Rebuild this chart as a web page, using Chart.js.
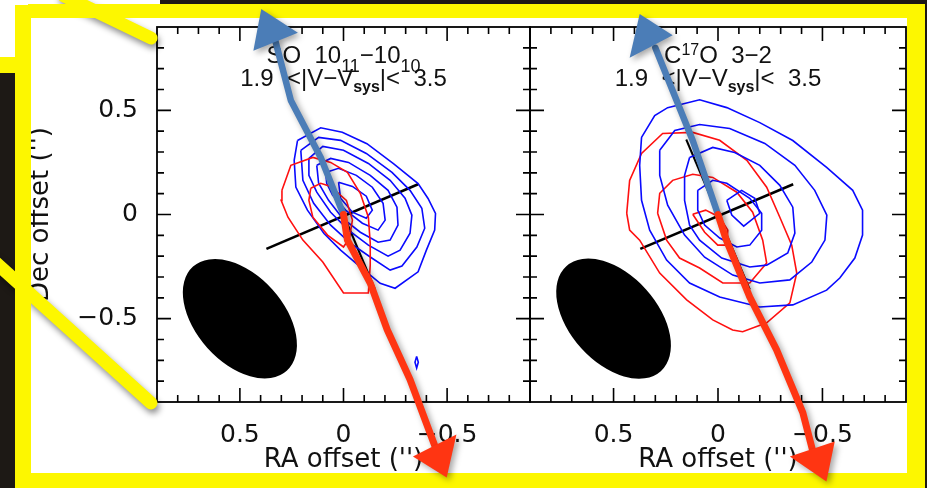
<!DOCTYPE html>
<html><head><meta charset="utf-8">
<script src="https://cdn.jsdelivr.net/npm/chart.js@4.4.1/dist/chart.umd.min.js"></script>
<style>
html,body{margin:0;padding:0;background:#fff;width:927px;height:488px;overflow:hidden;position:relative}
.dark{position:absolute;background:#1d1915}
canvas{position:absolute;top:0}
</style></head><body>
<div class="dark" style="left:0;top:73px;width:16px;height:415px"></div>
<div class="dark" style="left:160px;top:0;width:767px;height:5px"></div>
<div class="dark" style="left:923px;top:0;width:4px;height:488px"></div>
<canvas id="cL" width="540" height="488" style="left:0"></canvas>
<canvas id="cR" width="398" height="488" style="left:529px"></canvas>
<canvas id="ov" width="927" height="488" style="left:0"></canvas>
<script>
// ---------- axes ----------
const axisMin = -0.9, axisMax = 0.9;
const majorTicks = [-0.5, 0, 0.5];
const minorTicks = [-0.8,-0.7,-0.6,-0.4,-0.3,-0.2,-0.1,0.1,0.2,0.3,0.4,0.6,0.7,0.8];
const xTitle = "RA offset ('')";
const yTitle = "Dec offset ('')";

// ---------- SO 10_11-10_10 panel : contours [RA, Dec] in arcsec ----------
const soBlue1 = [[0.222,0.355],[0.110,0.416],[0.006,0.395],[-0.113,0.340],[-0.241,0.244],[-0.360,0.148],[-0.408,0.077],[-0.444,0.005],[-0.440,-0.075],[-0.400,-0.171],[-0.360,-0.275],[-0.249,-0.354],[-0.177,-0.330],[-0.081,-0.251],[0.014,-0.171],[0.094,-0.091],[0.174,0.021],[0.230,0.132],[0.238,0.260]];
const soBlue2 = [[0.206,0.308],[0.120,0.370],[0.014,0.356],[-0.110,0.293],[-0.234,0.202],[-0.321,0.116],[-0.378,0.030],[-0.392,-0.066],[-0.354,-0.156],[-0.282,-0.247],[-0.225,-0.267],[-0.129,-0.204],[-0.033,-0.137],[0.062,-0.051],[0.144,0.054],[0.196,0.164]];
const soBlue3 = [[0.167,0.269],[0.100,0.327],[0.000,0.308],[-0.120,0.245],[-0.225,0.164],[-0.297,0.078],[-0.330,-0.003],[-0.321,-0.090],[-0.273,-0.171],[-0.215,-0.200],[-0.120,-0.147],[-0.024,-0.075],[0.062,0.011],[0.129,0.107],[0.167,0.188]];
const soBlue4 = [[0.129,0.236],[0.062,0.269],[-0.024,0.250],[-0.129,0.188],[-0.215,0.116],[-0.258,0.035],[-0.263,-0.051],[-0.225,-0.123],[-0.167,-0.133],[-0.081,-0.085],[0.005,-0.018],[0.072,0.068],[0.120,0.150]];
const soBlue5 = [[0.086,0.202],[0.024,0.222],[-0.062,0.188],[-0.139,0.131],[-0.191,0.054],[-0.201,-0.027],[-0.167,-0.075],[-0.091,-0.042],[-0.010,0.021],[0.053,0.093],[0.081,0.150]];
const soBlue6 = [[0.024,0.155],[-0.043,0.135],[-0.110,0.088],[-0.139,0.021],[-0.110,-0.018],[-0.043,0.011],[0.014,0.078]];
const soBlueSpot = [[-0.353,-0.681],[-0.361,-0.709],[-0.353,-0.737],[-0.345,-0.709]];
const soRed1 = [[0.297,0.116],[0.254,0.236],[0.148,0.274],[0.062,0.250],[-0.019,0.202],[-0.081,0.102],[-0.120,-0.013],[-0.129,-0.137],[-0.129,-0.243],[-0.120,-0.377],[0.000,-0.377],[0.100,-0.228],[0.196,-0.123],[0.268,-0.013],[0.301,0.068]];
const soRed2 = [[0.158,0.126],[0.110,0.150],[0.062,0.135],[-0.014,0.068],[-0.043,-0.027],[-0.029,-0.113],[0.000,-0.156],[0.077,-0.099],[0.148,-0.013],[0.167,0.068]];

// ---------- C17O 3-2 panel ----------
const coBlue1 = [[0.366,0.370],[0.303,0.475],[0.241,0.513],[0.088,0.551],[-0.042,0.513],[-0.200,0.441],[-0.358,0.355],[-0.520,0.226],[-0.645,0.116],[-0.692,0.021],[-0.692,-0.099],[-0.655,-0.209],[-0.583,-0.305],[-0.520,-0.363],[-0.358,-0.434],[-0.200,-0.444],[-0.008,-0.396],[0.136,-0.329],[0.246,-0.219],[0.327,-0.075],[0.366,0.068],[0.375,0.236]];
const coBlue2 = [[0.279,0.308],[0.207,0.403],[0.088,0.432],[-0.056,0.413],[-0.224,0.341],[-0.368,0.236],[-0.463,0.116],[-0.521,-0.003],[-0.512,-0.123],[-0.449,-0.228],[-0.344,-0.314],[-0.200,-0.329],[-0.071,-0.291],[0.064,-0.205],[0.160,-0.099],[0.241,0.045],[0.279,0.188]];
const coBlue3 = [[0.136,0.274],[0.025,0.322],[-0.080,0.298],[-0.200,0.236],[-0.296,0.140],[-0.358,0.035],[-0.368,-0.089],[-0.334,-0.185],[-0.233,-0.243],[-0.152,-0.252],[-0.018,-0.209],[0.088,-0.123],[0.136,-0.051],[0.160,0.068],[0.160,0.188]];
const coBlue4 = [[0.097,0.116],[0.025,0.164],[-0.042,0.150],[-0.152,0.078],[-0.209,0.006],[-0.209,-0.075],[-0.152,-0.147],[-0.090,-0.156],[-0.008,-0.113],[0.064,-0.051],[0.097,0.021]];
const coBlue5 = [[-0.042,0.068],[-0.113,0.116],[-0.176,0.078],[-0.200,0.006],[-0.123,-0.056],[-0.066,-0.003]];
const coRed1 = [[0.437,0.006],[0.423,0.164],[0.366,0.293],[0.265,0.389],[0.121,0.394],[-0.008,0.356],[-0.138,0.260],[-0.233,0.131],[-0.296,-0.013],[-0.353,-0.147],[-0.377,-0.281],[-0.344,-0.424],[-0.233,-0.520],[-0.118,-0.563],[-0.070,-0.554],[0.025,-0.506],[0.150,-0.410],[0.279,-0.281],[0.375,-0.123],[0.423,-0.075]];
const coRed2 = [[0.289,0.006],[0.279,0.102],[0.217,0.164],[0.121,0.193],[0.025,0.178],[-0.090,0.107],[-0.166,0.011],[-0.214,-0.123],[-0.233,-0.233],[-0.152,-0.329],[-0.023,-0.329],[0.088,-0.257],[0.184,-0.209],[0.246,-0.123]];
const coRed3 = [[0.121,0.001],[0.059,0.021],[-0.008,-0.013],[-0.047,-0.075],[-0.042,-0.147],[0.001,-0.147],[0.064,-0.085]];

// ---------- shared overlays ----------
const diskAxis = [[0.372,-0.165],[-0.360,0.145]];
const outflowAxis = [[0.152,0.36],[-0.152,-0.36]];
const beamCenter = [0.5,-0.5];
const beamAxes = [0.676,0.42];   // FWHM major, minor (arcsec)
const beamPA = 42;               // deg, east of north

// hand-drawn arrows (data coordinates)
const soBlueShaft = [[0,0],[0.110,0.274],[0.254,0.547],[0.328,0.830]];
const soBlueHead  = [[0.397,0.987],[0.220,0.872],[0.435,0.786]];
const soRedShaft  = [[0,0],[-0.019,-0.123],[-0.129,-0.329],[-0.211,-0.553],[-0.321,-0.792],[-0.440,-1.109]];
const soRedHead   = [[-0.545,-1.056],[-0.335,-1.161],[-0.498,-1.262]];
const coBlueShaft = [[0,0],[0.121,0.355],[0.300,0.800]];
const coBlueHead  = [[0.375,0.962],[0.217,0.861],[0.423,0.753]];
const coRedShaft  = [[0,0],[-0.040,-0.123],[-0.152,-0.396],[-0.280,-0.649],[-0.406,-0.951],[-0.451,-1.125]];
const coRedHead   = [[-0.559,-1.089],[-0.344,-1.161],[-0.519,-1.281]];

const BLUE = '#0a0aff', RED = '#ff1010', INK = '#111111';
const ARROW_BLUE = '#4b7db7', ARROW_RED = '#ff3512', YEL = '#fdf700';
const TICK_FONT = '"DejaVu Sans", sans-serif';
const TXT_FONT = '"Liberation Sans", Arial, sans-serif';

const soTitle = [
  [["SO  10",24,0],["11",18,9],["\u221210",24,0],["10",18,9]],
  [["1.9  <|V\u2212V",24,0],["sys",16,6,true],["|<  3.5",24,0]]
];
const coTitle = [
  [["C",24,0],["17",16,-8],["O  3\u22122",24,0]],
  [["1.9  <|V\u2212V",24,0],["sys",16,6,true],["|<  3.5",24,0]]
];

function pts(a){ return a.map(p=>({x:p[0],y:p[1]})); }
function poly(a,color){ const d=pts(a); d.push({x:a[0][0],y:a[0][1]}); return {data:d,showLine:true,borderColor:color,borderWidth:1.6,pointRadius:0,fill:false,tension:0}; }
function line(a,color,w){ return {data:pts(a),showLine:true,borderColor:color,borderWidth:w,pointRadius:0,fill:false}; }
function fmt(v){ return v===0 ? '0' : (v<0 ? '\u2212'+Math.abs(v) : String(v)); }

function drawRich(ctx, parts, cx, by){
  let total=0;
  const w=parts.map(p=>{ ctx.font=(p[3]?'bold ':'')+p[1]+'px '+TXT_FONT; const m=ctx.measureText(p[0]).width; total+=m; return m; });
  let xx=cx-total/2;
  parts.forEach((p,i)=>{ ctx.font=(p[3]?'bold ':'')+p[1]+'px '+TXT_FONT; ctx.fillText(p[0],xx,by+p[2]); xx+=w[i]; });
}

const panelPlugin = {
  id:'panel',
  beforeDatasetsDraw(chart){
    const {ctx, scales:{x,y}} = chart;
    const sx=Math.abs(x.getPixelForValue(1)-x.getPixelForValue(0));
    const sy=Math.abs(y.getPixelForValue(1)-y.getPixelForValue(0));
    ctx.save(); ctx.fillStyle='#000';
    ctx.beginPath();
    ctx.ellipse(x.getPixelForValue(beamCenter[0]), y.getPixelForValue(beamCenter[1]), beamAxes[0]/2*sx, beamAxes[1]/2*sy, (90-beamPA)*Math.PI/180, 0, 2*Math.PI);
    ctx.fill(); ctx.restore();
  },
  afterDatasetsDraw(chart){
    const {ctx, chartArea:a, scales:{x,y}} = chart;
    const cfg = chart.options.plugins.panel;
    ctx.save();
    ctx.strokeStyle='#000'; ctx.lineWidth=1.8;
    ctx.strokeRect(a.left,a.top,a.width,a.height);
    ctx.beginPath();
    const vals=[...majorTicks.map(v=>[v,14]),...minorTicks.map(v=>[v,7])];
    vals.forEach(([v,L])=>{
      const px=x.getPixelForValue(v), py=y.getPixelForValue(v);
      ctx.moveTo(px,a.top); ctx.lineTo(px,a.top+L);
      ctx.moveTo(px,a.bottom); ctx.lineTo(px,a.bottom-L);
      ctx.moveTo(a.left,py); ctx.lineTo(a.left+L,py);
      ctx.moveTo(a.right,py); ctx.lineTo(a.right-L,py);
    });
    ctx.lineWidth=1.6; ctx.stroke();
    ctx.fillStyle=INK; ctx.textBaseline='alphabetic';
    const cx=x.getPixelForValue(0);
    drawRich(ctx, cfg.title[0], cx, a.top+36);
    drawRich(ctx, cfg.title[1], cx, a.top+59);
    ctx.restore();
  }
};

function makeChart(id, datasets, showY, pad, panelCfg){
  return new Chart(document.getElementById(id), {
    type:'scatter',
    data:{datasets},
    options:{
      responsive:false, animation:false, devicePixelRatio:1,
      layout:{padding:pad},
      plugins:{legend:{display:false}, tooltip:{enabled:false}, panel:panelCfg},
      scales:{
        x:{type:'linear', reverse:true, min:axisMin, max:axisMax,
           grid:{display:false}, border:{display:false},
           afterBuildTicks:s=>{ s.ticks=majorTicks.map(v=>({value:v})); },
           ticks:{font:{family:TICK_FONT,size:25}, color:INK, padding:10, maxRotation:0, minRotation:0, autoSkip:false, callback:v=>fmt(v)},
           title:{display:true, text:xTitle, color:INK, font:{family:TICK_FONT,size:26,lineHeight:1.2}, padding:{top:0,bottom:12}},
           afterFit:s=>{ s.height=86; }},
        y:{type:'linear', display:showY, min:axisMin, max:axisMax,
           grid:{display:false}, border:{display:false},
           afterBuildTicks:s=>{ s.ticks=majorTicks.map(v=>({value:v})); },
           ticks:{font:{family:TICK_FONT,size:25}, color:INK, padding:11, autoSkip:false, callback:v=>fmt(v)},
           title:{display:true, text:yTitle, color:INK, font:{family:TICK_FONT,size:26,lineHeight:1.2}, padding:{top:26,bottom:0}},
           afterFit: showY ? (s=>{ s.width=157; }) : (s=>{ s.width=0; })}
      }
    },
    plugins:[panelPlugin]
  });
}

const soSets = [
  poly(soRed1,RED), poly(soRed2,RED),
  poly(soBlue1,BLUE), poly(soBlue2,BLUE), poly(soBlue3,BLUE), poly(soBlue4,BLUE), poly(soBlue5,BLUE), poly(soBlue6,BLUE), poly(soBlueSpot,BLUE),
  line(outflowAxis,'#000',2), line(diskAxis,'#000',2.6)
];
const coSets = [
  poly(coBlue1,BLUE), poly(coBlue2,BLUE), poly(coBlue3,BLUE), poly(coBlue4,BLUE), poly(coBlue5,BLUE),
  poly(coRed1,RED), poly(coRed2,RED), poly(coRed3,RED),
  line(outflowAxis,'#000',2), line(diskAxis,'#000',2.6)
];

const chartL = makeChart('cL', soSets, true, {left:0,top:27,right:10,bottom:0}, {title:soTitle});
const chartR = makeChart('cR', coSets, false, {left:1,top:27,right:21,bottom:0}, {title:coTitle});

// ---------- overlay: yellow frame, then hand-drawn arrows (positioned through each chart's scales) ----------
function drawFrame(ctx){
  ctx.save();
  ctx.shadowColor='rgba(0,0,0,0.45)'; ctx.shadowBlur=6; ctx.shadowOffsetX=2; ctx.shadowOffsetY=4;
  ctx.strokeStyle=YEL; ctx.lineCap='round'; ctx.lineWidth=13;
  ctx.beginPath(); ctx.moveTo(64,-4); ctx.lineTo(151,38); ctx.stroke();
  ctx.beginPath(); ctx.moveTo(-6,261); ctx.lineTo(151,403); ctx.stroke();
  ctx.restore();
  ctx.fillStyle=YEL;
  ctx.fillRect(28,4,897,14);
  ctx.fillRect(15,5,16,483);
  ctx.fillRect(0,57,16,16);
  ctx.fillRect(15,473,910,15);
  ctx.fillRect(907,4,18,484);
}
function drawArrow(ctx,chart,off,shaft,head,color,w){
  const x=chart.scales.x, y=chart.scales.y;
  ctx.save();
  ctx.shadowColor='rgba(0,0,0,0.35)'; ctx.shadowBlur=6; ctx.shadowOffsetX=3; ctx.shadowOffsetY=3;
  ctx.strokeStyle=color; ctx.fillStyle=color; ctx.lineWidth=w; ctx.lineCap='round'; ctx.lineJoin='round';
  ctx.beginPath();
  shaft.forEach((p,i)=>{ const px=off+x.getPixelForValue(p[0]), py=y.getPixelForValue(p[1]); i?ctx.lineTo(px,py):ctx.moveTo(px,py); });
  ctx.stroke();
  ctx.beginPath();
  head.forEach((p,i)=>{ const px=off+x.getPixelForValue(p[0]), py=y.getPixelForValue(p[1]); i?ctx.lineTo(px,py):ctx.moveTo(px,py); });
  ctx.closePath(); ctx.fill();
  ctx.restore();
}
const ov = document.getElementById('ov').getContext('2d');
drawFrame(ov);
drawArrow(ov, chartL, 0, soBlueShaft, soBlueHead, ARROW_BLUE, 6.5);
drawArrow(ov, chartL, 0, soRedShaft, soRedHead, ARROW_RED, 7);
drawArrow(ov, chartR, 529, coBlueShaft, coBlueHead, ARROW_BLUE, 6.5);
drawArrow(ov, chartR, 529, coRedShaft, coRedHead, ARROW_RED, 7);
</script>
</body></html>
